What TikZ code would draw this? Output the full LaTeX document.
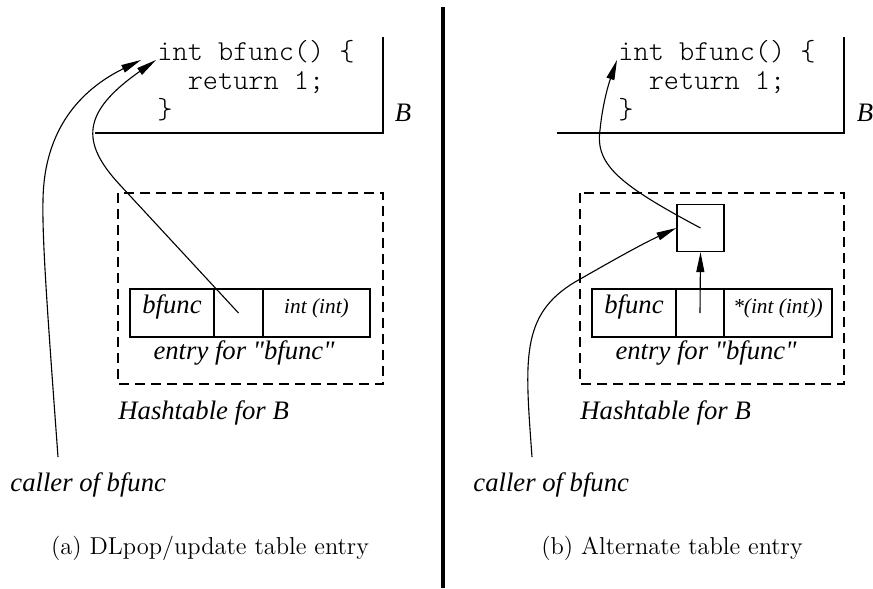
\documentclass[tikz,border=0pt]{standalone}
\usepackage{fontspec}
\setmonofont{Latin Modern Mono Light}
\newfontfamily\timesit{Liberation Serif Italic}
\usetikzlibrary{arrows.meta,positioning}

\tikzset{
  code/.style={anchor=north west,inner sep=0pt,align=left,
    font=\fontsize{13}{13}\selectfont\ttfamily},
  lbl/.style={inner sep=0pt,font=\fontsize{12}{14}\selectfont\timesit},
  small lbl/.style={font=\fontsize{9.6}{11}\selectfont\timesit},
  cell/.style={draw,line width=0.6pt,minimum height=21.6pt,inner sep=0pt,
    outer sep=0pt,text height=7pt,text depth=7pt},
  hash/.style={line width=0.6pt,dash pattern=on 4.5pt off 2.7pt},
  frame/.style={line width=0.6pt},
  link/.style={line width=0.5pt,-{Triangle[length=9pt,width=3.6pt]}},
  caption/.style={inner sep=0pt,font=\fontsize{11}{13}\selectfont}
}

\begin{document}
\begin{tikzpicture}[x=0.45pt,y=-0.45pt]
	\useasboundingbox (0,0) rectangle (873,588);

	%LEFT: DLPOP/UPDATE
	\node[code] (codeA) at (157,40) {int bfunc() \{\\\hspace*{1.05em}return 1;\\\}};
	\draw[frame] (95,133)--(383,133)--(383,37);
	\node[lbl] (classA) at (403,113) {B};
	\draw[hash] (118,193) rectangle (383,384);
	%table entry
	\node[cell,lbl,minimum width=37.8pt,anchor=north west] (nameA) at (130,289) {bfunc};
	\node[cell,minimum width=22.05pt,right=0pt of nameA] (ptrA) {};
	\node[cell,small lbl,minimum width=48.15pt,right=0pt of ptrA] (typeA) {int (int)};
	\node[lbl] (entryA) at (244,353) {entry for "bfunc"};
	\node[lbl,anchor=west] (hashA) at (118,413) {Hashtable for B};
	\node[lbl,anchor=west] (callerA) at (10,485) {caller of bfunc};
	\coordinate (fromA) at (58,457);
	\coordinate (tipA) at (141,60);
	\coordinate (tipAA) at (156,60);
	\draw[link] (fromA) .. controls (48,320) and (42,240) .. (43,200) .. controls (44,130) and (80,90) .. (tipA);
	\draw[link] (ptrA.center) -- (120,185) .. controls (80,142) and (82,112) .. (tipAA);
	\node[caption] (capA) at (210,548) {(a) DLpop/update table entry};

	%DIVIDER
	\draw[line width=1.8pt] (443,7)--(443,588);

	%RIGHT: ALTERNATE ENTRY
	\node[code] (codeB) at (618,40) {int bfunc() \{\\\hspace*{1.05em}return 1;\\\}};
	\draw[frame] (557,133)--(844,133)--(844,37);
	\node[lbl] (classB) at (865,113) {B};
	\draw[hash] (580,193) rectangle (844,384);
	\node[draw,line width=0.6pt,minimum size=21.15pt,inner sep=0pt] (stubB) at (700.5,228) {};
	%table entry
	\node[cell,lbl,minimum width=37.8pt,anchor=north west] (nameB) at (592,289) {bfunc};
	\node[cell,minimum width=21.6pt,right=0pt of nameB] (ptrB) {};
	\node[cell,small lbl,minimum width=48.6pt,right=0pt of ptrB] (typeB) {*(int (int))};
	\node[lbl] (entryB) at (706,353) {entry for "bfunc"};
	\node[lbl,anchor=west] (hashB) at (580,413) {Hashtable for B};
	\node[lbl,anchor=west] (callerB) at (473,485) {caller of bfunc};
	\coordinate (fromB) at (532,457);
	\coordinate (tipB) at (617,60);
	\draw[link] (fromB) .. controls (525,360) and (520,315) .. (575,282) .. controls (610,262) and (640,245) .. (stubB.west);
	\draw[link] (stubB.center) .. controls (620,185) and (595,165) .. (600,130) .. controls (603,100) and (610,80) .. (tipB);
	\draw[link] (ptrB.center) -- (stubB.south);
	\node[caption] (capB) at (672,548) {(b) Alternate table entry};
\end{tikzpicture}
\end{document}
